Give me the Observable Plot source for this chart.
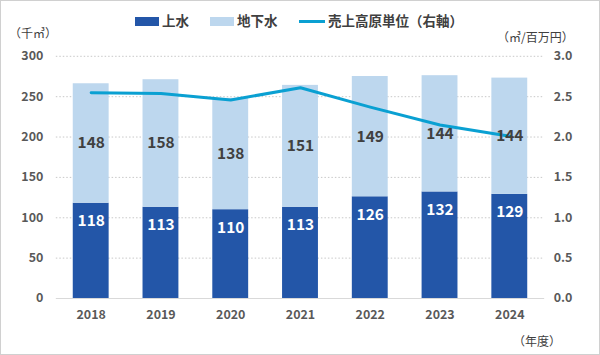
<!DOCTYPE html>
<html><head><meta charset="utf-8">
<script src="https://cdn.jsdelivr.net/npm/d3@7"></script>
<script src="https://cdn.jsdelivr.net/npm/@observablehq/plot@0.6"></script>
<style>
html,body{margin:0;padding:0;background:#fff;}
#wrap{position:relative;width:600px;height:355px;box-sizing:border-box;border:1px solid #d0d0d0;overflow:hidden;font-family:"Noto Sans CJK JP","Noto Sans",sans-serif;color:#404040;}
#wrap svg{position:absolute;left:0;top:0;}
.lbl{position:absolute;font-size:12px;color:#404040;white-space:nowrap;line-height:1;}
.leg{position:absolute;top:13px;font-size:13px;font-weight:bold;color:#404040;line-height:1;white-space:nowrap;}
.sw{position:absolute;}
</style></head><body>
<div id="wrap"></div>
<script>
const years = ["2018","2019","2020","2021","2022","2023","2024"];
const jousui = [118,113,110,113,126,132,129];
const chikasui = [148,158,138,151,149,144,144];
const unitRate = [2.55,2.54,2.46,2.61,2.37,2.15,2.01];
const leftTicks = [0,50,100,150,200,250,300];
const rightTicks = [0,0.5,1.0,1.5,2.0,2.5,3.0];

const c1 = "#2356a8", c2 = "#bdd7ee", c3 = "#0aa0d2", tc = "#595959";
const RS = 100; // right axis (3.0) mapped onto left scale (300)

const bars = years.flatMap((y,i)=>[
  {year:y, kind:"上水", v:jousui[i]},
  {year:y, kind:"地下水", v:chikasui[i]}
]);
const lbl1 = years.map((y,i)=>({year:y, v:jousui[i]}));
const lbl2 = years.map((y,i)=>({year:y, v:chikasui[i], mid: jousui[i] + chikasui[i]/2}));
const line = years.map((y,i)=>({year:y, r:unitRate[i]}));

const fontFam = '"Noto Sans CJK JP","Noto Sans",sans-serif';
const chart = Plot.plot({
  width: 600, height: 355,
  marginLeft: 56, marginRight: 54, marginTop: 56, marginBottom: 56,
  style: {fontFamily: fontFam, background: "transparent", overflow: "visible"},
  x: {type:"band", domain: years, paddingInner: 0.486, paddingOuter: 0.243, label: null},
  y: {domain: [0,300], label: null},
  color: {domain:["上水","地下水"], range:[c1,c2]},
  marks: [
    Plot.ruleY(leftTicks.filter(d=>d>0), {stroke:"#c8c8c8", strokeDasharray:"1.5,2", strokeWidth:1}),
    Plot.barY(bars, Plot.stackY({x:"year", y:"v", fill:"kind", order:["上水","地下水"]})),
    Plot.ruleY([0], {stroke:"#d9d9d9", strokeWidth:1}),
    Plot.axisY({ticks: leftTicks, tickSize: 0, tickPadding: 13, fontSize: 12.5, fontWeight: "bold", fill: tc, label: null}),
    Plot.axisY({anchor:"right", ticks: rightTicks.map(d=>d*RS), tickFormat: d=>(d/RS).toFixed(1), tickSize: 0, tickPadding: 9, textAnchor:"start", fontSize: 12.5, fontWeight: "bold", fill: tc, label: null}),
    Plot.axisX({tickSize: 0, tickPadding: 12, fontSize: 12.5, fontWeight: "bold", fill: tc, label: null}),
    Plot.line(line, {x:"year", y: d=>d.r*RS, stroke:c3, strokeWidth:3, curve:"linear"}),
    Plot.text(lbl1, {x:"year", y:"v", text: d=>String(d.v), dy: 18, fill:"#fff", fontSize: 15.5, fontWeight:"bold"}),
    Plot.text(lbl2, {x:"year", y:"mid", text: d=>String(d.v), fill:"#404040", fontSize: 15.5, fontWeight:"bold"})
  ]
});
const wrap = document.getElementById("wrap");
chart.style.left = "-1px"; chart.style.top = "-1px";
wrap.appendChild(chart);

function add(html, css){ const d=document.createElement("div"); d.innerHTML=html; Object.assign(d.style,css); wrap.appendChild(d); return d; }
// legend
add("", {position:"absolute", left:"134px", top:"16px", width:"24px", height:"9px", background:c1});
add("上水", {position:"absolute", left:"161px", top:"13px", fontSize:"13.5px", fontWeight:"bold", color:"#404040", lineHeight:"1"});
add("", {position:"absolute", left:"209px", top:"16px", width:"24px", height:"9px", background:c2});
add("地下水", {position:"absolute", left:"236px", top:"13px", fontSize:"13.5px", fontWeight:"bold", color:"#404040", lineHeight:"1"});
add("", {position:"absolute", left:"298px", top:"19px", width:"26px", height:"3px", background:c3});
add("売上高原単位（右軸）", {position:"absolute", left:"327px", top:"13px", fontSize:"13.5px", fontWeight:"bold", color:"#404040", lineHeight:"1"});
// units
add("（千㎥）", {position:"absolute", left:"8px", top:"26px", fontSize:"12px", color:"#404040", lineHeight:"1"});
add("（㎥/百万円）", {position:"absolute", left:"496px", top:"30px", fontSize:"12px", color:"#404040", lineHeight:"1"});
add("（年度）", {position:"absolute", left:"512px", top:"334px", fontSize:"12px", color:"#404040", lineHeight:"1"});
</script>
</body></html>
